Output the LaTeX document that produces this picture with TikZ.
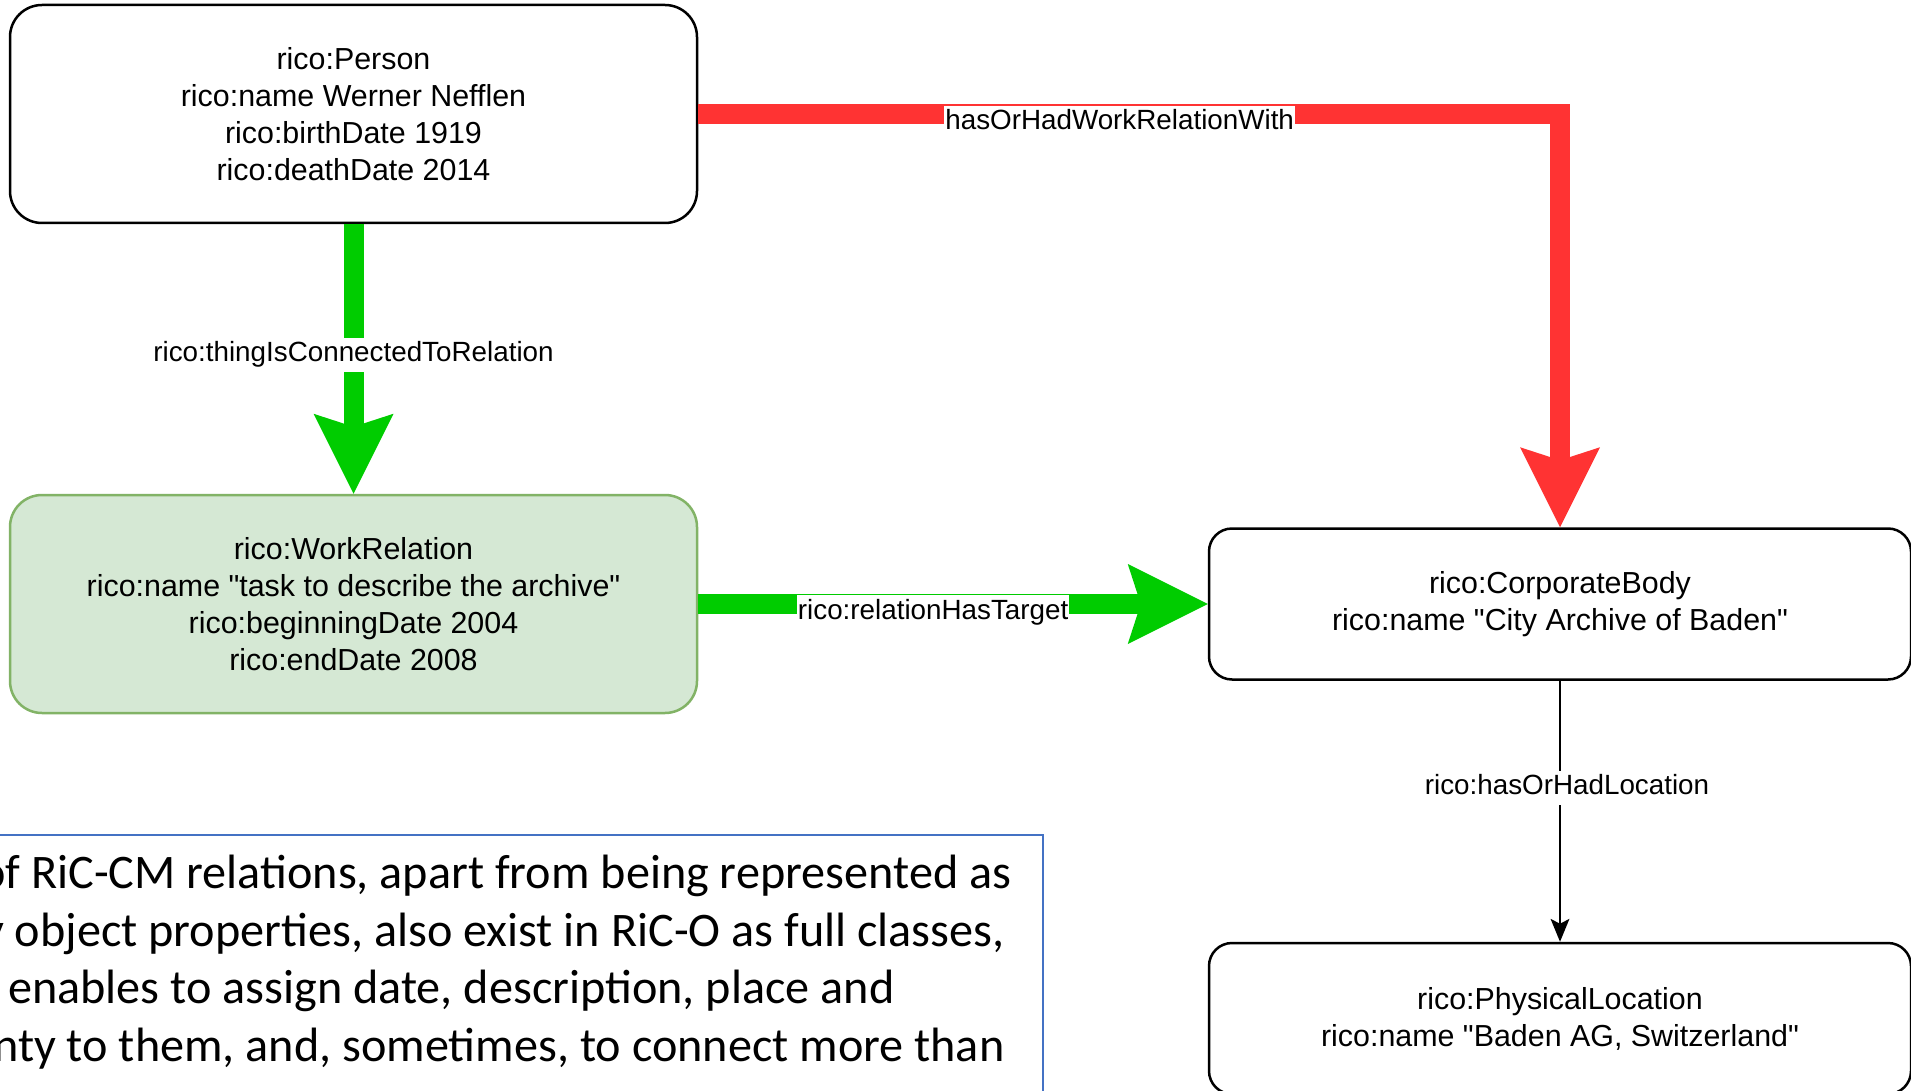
\documentclass[tikz,border=0pt]{standalone}
\usepackage{fontspec}
\setmainfont{Liberation Sans}[Ligatures=TeXOff]
\newfontfamily\notefont{Carlito}
\usetikzlibrary{arrows.meta,positioning}
\definecolor{relgreen}{HTML}{00CC00}
\definecolor{relred}{HTML}{FF3333}
\definecolor{boxgreen}{HTML}{D5E8D4}
\definecolor{edgegreen}{HTML}{82B366}
\definecolor{noteblue}{HTML}{4472C4}
\def \bigBoxWidth {687pt}
\def \bigBoxHeight {218pt}
\def \smallBoxWidth {702pt}
\def \smallBoxHeight {151pt}
\def \downGap {269.5pt}
\def \rightGap {509.5pt}
\def \placeGap {261pt}
\tikzset{
	entity/.style= {draw, rectangle, rounded corners=32pt, line width=2.5pt, align=center, minimum width=\bigBoxWidth, minimum height=\bigBoxHeight, font=\fontsize{30.4}{37}\selectfont},
	relationentity/.style= {entity, fill=boxgreen, draw=edgegreen},
	smallentity/.style= {entity, rounded corners=23pt, minimum width=\smallBoxWidth, minimum height=\smallBoxHeight},
	edgelabel/.style= {fill=white, text=black, inner xsep=1pt, inner ysep=4pt, text height=20pt, text depth=6pt, font=\fontsize{27.8}{33}\selectfont},
	fatarrow/.style= {line width=20pt, -{Stealth[length=80pt, width=80pt, inset=13pt, line width=0pt]}},
	thinarrow/.style= {line width=2.3pt, -{Stealth[length=23pt, width=19pt, inset=5pt, line width=0pt]}},
	noteline/.style= {anchor=base west, inner sep=0pt, font=\notefont\fontsize{48.2}{57.7}\selectfont}
}

\begin{document}
\begin{tikzpicture}[x=1pt, y=-1pt]
	\useasboundingbox (0,0) rectangle (1911,1091);

%%%%%%%%%%%%%%%%%%%%% Nodes %%%%%%%%%%%%%%%%%%%%%
	\node [entity] (person) at (353.5,114) {rico:Person\\rico:name Werner Nefflen\\rico:birthDate 1919\\rico:deathDate 2014};

	\node [relationentity, below =\downGap of person] (workrel) {rico:WorkRelation\\rico:name "task to describe the archive"\\rico:beginningDate 2004\\rico:endDate 2008};

	\node [smallentity, right =\rightGap of workrel] (corpbody) {rico:CorporateBody\\rico:name "City Archive of Baden"};

	\node [smallentity, below =\placeGap of corpbody] (location) {rico:PhysicalLocation\\rico:name "Baden AG, Switzerland"};

%%%%%%%%%%%%%%%%%%%%% Note %%%%%%%%%%%%%%%%%%%%%
	\node [draw=noteblue, line width=2pt, inner sep=0pt, minimum width=1080pt, minimum height=300pt, anchor=north east] (note) at (1044,834) {};
	\node [noteline] (note1) at (-20,888.5) {of RiC-CM relations, apart from being represented as};
	\node [noteline] (note2) at (-18,946.5) {y object properties, also exist in RiC-O as full classes,};
	\node [noteline] (note3) at (8,1003.5) {enables to assign date, description, place and};
	\node [noteline] (note4) at (-7,1061.5) {nty to them, and, sometimes, to connect more than};

%%%%%%%%%%%%%%%%%%%%% Links %%%%%%%%%%%%%%%%%%%%%
	\draw [fatarrow, relgreen] (person) -- (workrel) node [edgelabel, pos=0.485] {rico:thingIsConnectedToRelation};
	\draw [fatarrow, relgreen] (workrel) -- (corpbody) node [edgelabel, pos=0.461, yshift=-8pt] {rico:relationHasTarget};
	\draw [fatarrow, relred] (person.east) -| (corpbody.north) node [edgelabel, pos=0.2445, yshift=-9pt] {hasOrHadWorkRelationWith};
	\draw [thinarrow] (corpbody) -- (location) node [edgelabel, pos=0.41, xshift=7pt] {rico:hasOrHadLocation};

\end{tikzpicture}
\end{document}
